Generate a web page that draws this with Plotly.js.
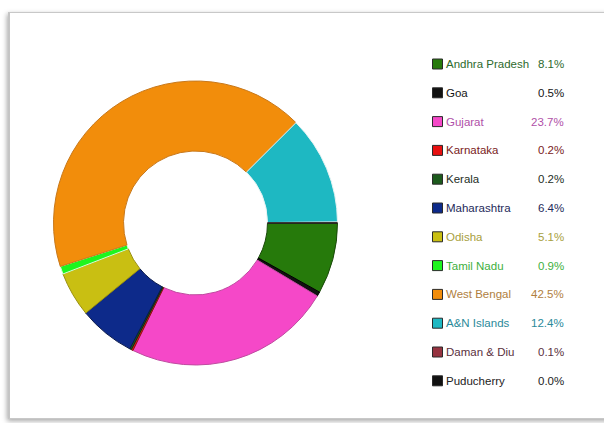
<!DOCTYPE html>
<html>
<head>
<meta charset="utf-8">
<script src="https://cdn.plot.ly/plotly-3.0.1.min.js"></script>
<style>
  html, body { margin: 0; padding: 0; background: #ffffff; }
  #frame {
    position: absolute; left: 8px; top: 12px; width: 620px; height: 405px;
    border: 1px solid #c8c8c8;
    border-left: 2px solid #c4c4c4;
    box-shadow: -1px 2px 5px rgba(0,0,0,0.35);
    background: #ffffff;
  }
  #chart { position: absolute; left: 0; top: 0; width: 604px; height: 423px; }
</style>
</head>
<body>
<div id="frame"></div>
<div id="chart"></div>
<script>
// ---- data ----
const categories = ["Andhra Pradesh", "Goa", "Gujarat", "Karnataka", "Kerala", "Maharashtra",
                    "Odisha", "Tamil Nadu", "West Bengal", "A&N Islands", "Daman & Diu", "Puducherry"];
const shares = [8.1, 0.5, 23.7, 0.2, 0.2, 6.4, 5.1, 0.9, 42.5, 12.4, 0.1, 0.0];

// ---- styles ----
const sliceColors = ["#267a0b", "#111111", "#f548c8", "#e81010", "#1c5a1c", "#0d2a8a",
                     "#c9bf12", "#1ef51e", "#f28d0b", "#1eb8c2", "#963340", "#111111"];
const edgeColors  = ["#1a4a0a", "#000000", "#c04aa0", "#8a1010", "#0e300e", "#08184a",
                     "#9a9010", "#d8ffd8", "#c8781a", "#e8f4f4", "#f0e0e0", "#000000"];
const textColors  = ["#2d6a2d", "#151515", "#b050a8", "#7a2222", "#1e2e1e", "#1e2a5a",
                     "#a8a040", "#40b040", "#b08040", "#2a8a9a", "#5a3040", "#222222"];

const W = 604, H = 423;
const cx = 195.5, cy = 223, R = 142;

const trace = {
  type: "pie",
  labels: categories,
  values: shares,
  sort: false,
  direction: "clockwise",
  rotation: 90,
  hole: 0.507,
  textinfo: "none",
  hoverinfo: "label+percent",
  marker: { colors: sliceColors, line: { color: edgeColors, width: 1 } },
  domain: { x: [(cx - R) / W, (cx + R) / W], y: [(H - cy - R) / H, (H - cy + R) / H] },
  showlegend: false
};

const shapes = [];
const annotations = [];
const rowTop = 64, rowStep = 28.8;
const fontFam = "Liberation Sans, Arial, sans-serif";
categories.forEach((name, i) => {
  const yc = rowTop + i * rowStep;
  shapes.push({
    type: "rect", xref: "paper", yref: "paper",
    x0: 432.5 / W, x1: 442.5 / W, y0: 1 - (yc + 5) / H, y1: 1 - (yc - 5) / H,
    fillcolor: sliceColors[i], line: { color: "#2a2a2a", width: 1 }
  });
  annotations.push({
    xref: "paper", yref: "paper", x: 444 / W, y: 1 - yc / H,
    xanchor: "left", yanchor: "middle", showarrow: false,
    text: name, font: { family: fontFam, size: 11.5, color: textColors[i] }
  });
  annotations.push({
    xref: "paper", yref: "paper", x: 566 / W, y: 1 - yc / H,
    xanchor: "right", yanchor: "middle", showarrow: false,
    text: shares[i].toFixed(1) + "%", font: { family: fontFam, size: 11.5, color: textColors[i] }
  });
});

const layout = {
  width: W, height: H,
  margin: { l: 0, r: 0, t: 0, b: 0 },
  paper_bgcolor: "rgba(0,0,0,0)",
  plot_bgcolor: "rgba(0,0,0,0)",
  showlegend: false,
  shapes: shapes,
  annotations: annotations
};

Plotly.newPlot("chart", [trace], layout, { displayModeBar: false, staticPlot: true });
</script>
</body>
</html>
